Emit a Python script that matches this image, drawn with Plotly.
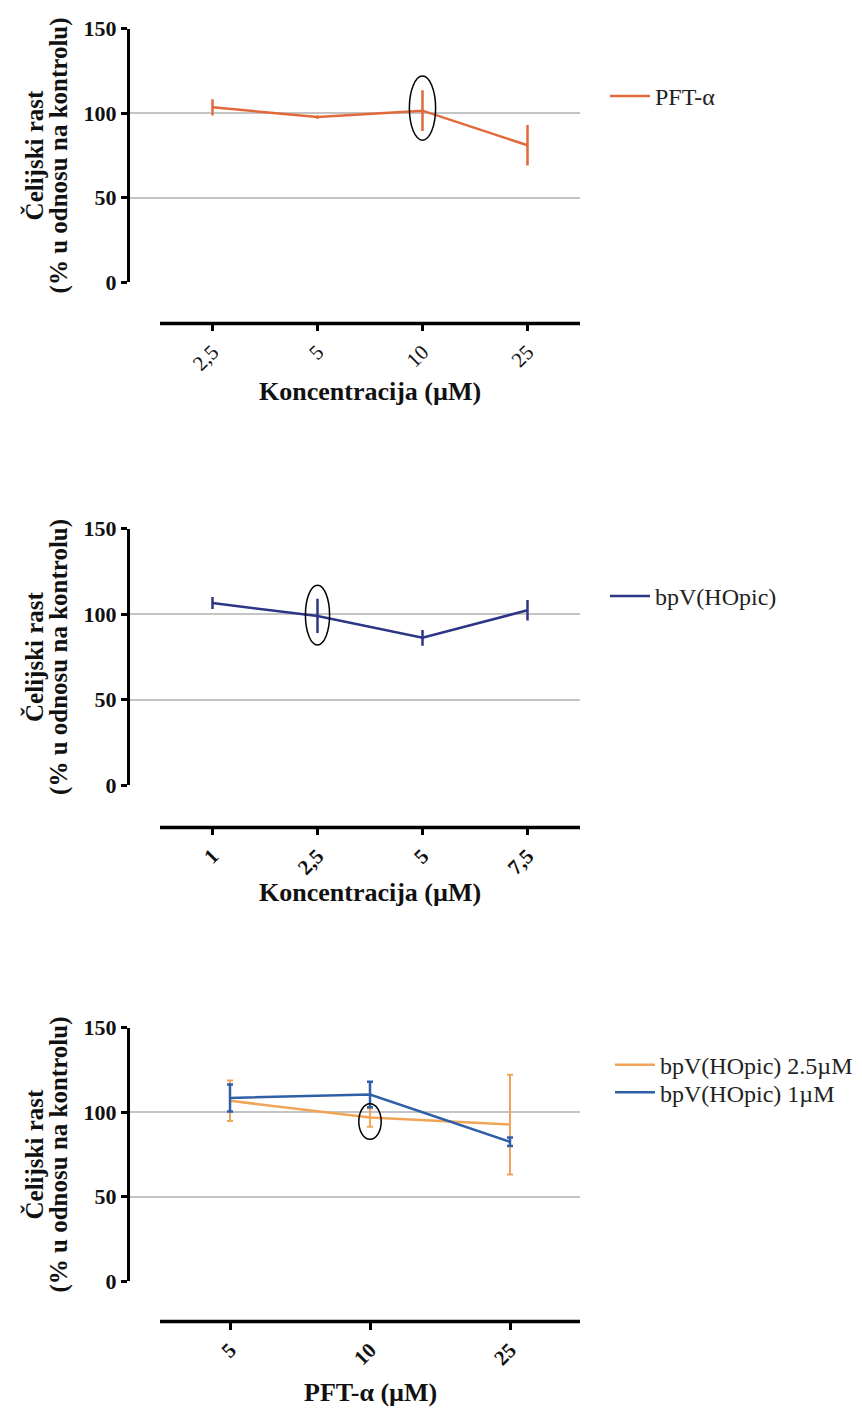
import plotly.graph_objects as go

# ---------------- data ----------------
p1_cats = ["2,5", "5", "10", "25"]
p1_vals = [103.5, 97.7, 101.5, 81]
p1_err = [4.8, 1, 12, 12]

p2_cats = ["1", "2,5", "5", "7,5"]
p2_vals = [106.5, 99, 86.2, 102.3]
p2_err = [3.5, 10, 4.6, 6]

p3_cats = ["5", "10", "25"]
p3_orange_vals = [106.8, 96.9, 92.7]
p3_orange_err = [12, 5.5, 29.5]
p3_blue_vals = [108.5, 110.5, 82.5]
p3_blue_err = [8, 7.5, 2.5]

y_ticks = [0, 50, 100, 150]

# ellipse annotations: (category index, y low, y high, half width in categories)
p1_ellipse = (2, 84, 122, 0.125)
p2_ellipse = (1, 82, 117, 0.115)
p3_ellipse = (1, 84, 105, 0.08)

W, H = 862, 1419
SERIF = "Liberation Serif"


def px_x(x):
    return x / W


def px_y(y):
    return 1 - y / H


fig = go.Figure()

panels = [
    dict(cats=p1_cats, top=17, bottom=275, xline=317, xtitle_y=386,
         title="Koncentracija (µM)", tickbold=False),
    dict(cats=p2_cats, top=526, bottom=787, xline=830, xtitle_y=896,
         title="Koncentracija (µM)", tickbold=True),
    dict(cats=p3_cats, top=1034, bottom=1292, xline=1333, xtitle_y=1405,
         title="PFT-α (µM)", tickbold=True),
]
YAX_X = 130
XL, XR = 160, 580

layout_updates = {}
shapes = []
annotations = []
for i, p in enumerate(panels, start=1):
    n = len(p["cats"])
    step = (XR - XL) / n
    extra = (XL - YAX_X) / step
    xa = "xaxis" if i == 1 else f"xaxis{i}"
    ya = "yaxis" if i == 1 else f"yaxis{i}"
    xref = "x" if i == 1 else f"x{i}"
    ticktext = [f"<b>{c}</b>" if p["tickbold"] else c for c in p["cats"]]
    layout_updates[xa] = dict(
        domain=[px_x(YAX_X), px_x(XR)],
        range=[-0.5 - extra, n - 0.5],
        tickvals=list(range(n)),
        ticktext=ticktext,
        tickangle=-45,
        anchor="free",
        position=px_y(p["xline"]),
        showline=False,
        showgrid=False,
        zeroline=False,
        ticks="outside",
        ticklen=7,
        tickwidth=2.5,
        tickcolor="black",
        tickfont=dict(family=SERIF, size=21, color="#111111"),
        fixedrange=True,
    )
    layout_updates[ya] = dict(
        domain=[px_y(p["bottom"]), px_y(p["top"])],
        range=[0, 150],
        tickvals=y_ticks,
        ticktext=[f"<b>{v}</b>" for v in y_ticks],
        anchor=xref,
        showline=True,
        linecolor="black",
        linewidth=3,
        ticks="outside",
        ticklen=6,
        tickwidth=2.5,
        tickcolor="black",
        showgrid=True,
        gridcolor="#C4C4C4",
        gridwidth=1.5,
        zeroline=False,
        tickfont=dict(family=SERIF, size=22, color="#111111"),
        fixedrange=True,
    )
    # offset x axis line
    shapes.append(dict(type="line", xref=xref, yref="paper",
                       x0=-0.5, x1=n - 0.5,
                       y0=px_y(p["xline"]), y1=px_y(p["xline"]),
                       line=dict(color="black", width=3.5)))
    # x title
    annotations.append(dict(text=f"<b>{p['title']}</b>", xref="paper", yref="paper",
                            x=px_x((XL + XR) / 2), y=px_y(p["xtitle_y"]),
                            showarrow=False, xanchor="center", yanchor="middle",
                            font=dict(family=SERIF, size=26, color="#111111")))
    # y title (two lines)
    ymid = px_y((p["top"] + p["bottom"]) / 2)
    for txt, xx in [("Čelijski rast", 34), ("(% u odnosu na kontrolu)", 59)]:
        annotations.append(dict(text=f"<b>{txt}</b>",
                                xref="paper", yref="paper",
                                x=px_x(xx), y=ymid,
                                textangle=-90, showarrow=False,
                                xanchor="center", yanchor="middle",
                                font=dict(family=SERIF, size=25, color="#111111")))

# ---------------- traces ----------------
ORANGE1 = "#E2693A"
NAVY = "#2D3686"
ORANGE3 = "#F0A458"
BLUE3 = "#2F5FA7"

fig.add_trace(go.Scatter(
    x=list(range(len(p1_cats))), y=p1_vals, mode="lines", name="PFT-α",
    line=dict(color=ORANGE1, width=2.5),
    error_y=dict(type="data", array=p1_err, color=ORANGE1, thickness=2.5, width=0),
    xaxis="x", yaxis="y", legend="legend"))

fig.add_trace(go.Scatter(
    x=list(range(len(p2_cats))), y=p2_vals, mode="lines", name="bpV(HOpic)",
    line=dict(color=NAVY, width=2.5),
    error_y=dict(type="data", array=p2_err, color=NAVY, thickness=2.5, width=0),
    xaxis="x2", yaxis="y2", legend="legend2"))

fig.add_trace(go.Scatter(
    x=list(range(len(p3_cats))), y=p3_orange_vals, mode="lines", name="bpV(HOpic) 2.5µM",
    line=dict(color=ORANGE3, width=2.5),
    error_y=dict(type="data", array=p3_orange_err, color=ORANGE3, thickness=2, width=3),
    xaxis="x3", yaxis="y3", legend="legend3"))

fig.add_trace(go.Scatter(
    x=list(range(len(p3_cats))), y=p3_blue_vals, mode="lines", name="bpV(HOpic) 1µM",
    line=dict(color=BLUE3, width=2.5),
    error_y=dict(type="data", array=p3_blue_err, color=BLUE3, thickness=2.5, width=3),
    xaxis="x3", yaxis="y3", legend="legend4"))

# ellipses around highlighted points
for (idx, ylo, yhi, hw), xref, yref in [
    (p1_ellipse, "x", "y"),
    (p2_ellipse, "x2", "y2"),
    (p3_ellipse, "x3", "y3"),
]:
    shapes.append(dict(type="circle", xref=xref, yref=yref,
                       x0=idx - hw, x1=idx + hw, y0=ylo, y1=yhi,
                       line=dict(color="black", width=1.5)))

legend_font = dict(family=SERIF, size=24, color="#222222")
common_leg = dict(xanchor="left", yanchor="middle", font=legend_font,
                  bgcolor="rgba(0,0,0,0)", itemwidth=40)
fig.update_layout(
    width=W, height=H,
    margin=dict(l=0, r=0, t=0, b=0),
    paper_bgcolor="white", plot_bgcolor="white",
    showlegend=True,
    shapes=shapes, annotations=annotations,
    legend=dict(x=px_x(605), y=px_y(86), **common_leg),
    legend2=dict(x=px_x(605), y=px_y(595), **common_leg),
    legend3=dict(x=px_x(610), y=px_y(1072), **common_leg),
    legend4=dict(x=px_x(610), y=px_y(1100), **common_leg),
    **layout_updates,
)

fig.write_html("out.html")
